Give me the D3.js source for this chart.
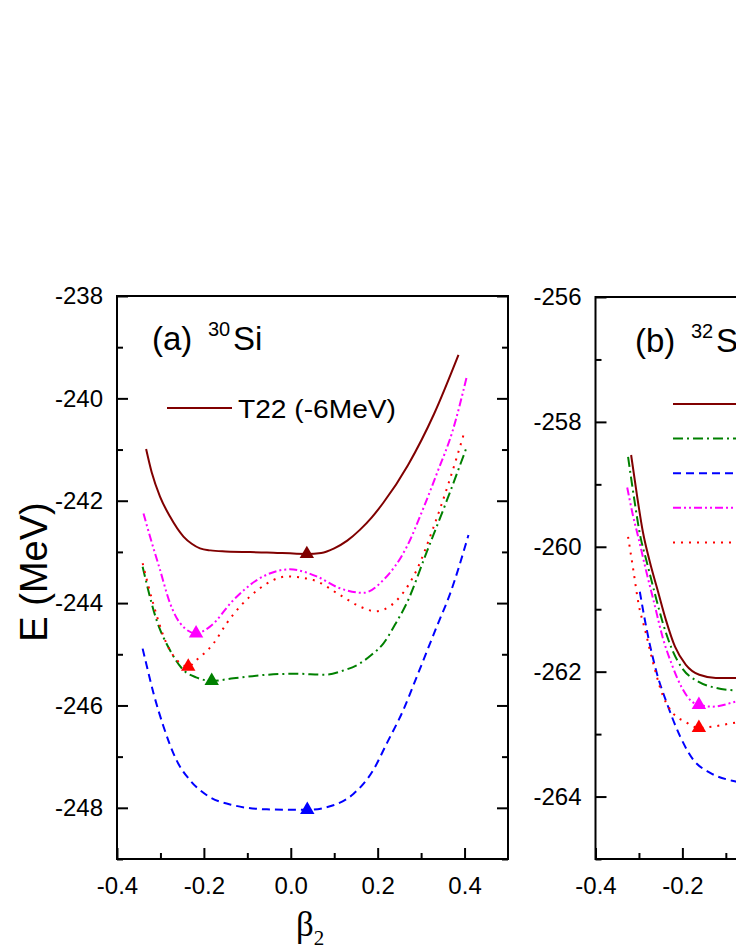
<!DOCTYPE html>
<html>
<head>
<meta charset="utf-8">
<script src="https://cdn.jsdelivr.net/npm/d3@7"></script>
<style>
  body { margin: 0; background: #fff; }
  svg { display: block; }
  text { font-family: "Liberation Sans", Arial, sans-serif; fill: #000; }
</style>
</head>
<body>
<svg id="chart" width="736" height="952"></svg>
<script>
// ---- data, panel (a) 30Si : [beta2, E] ----
var siT22 = [[-0.333,-240.99],[-0.320,-241.45],[-0.301,-241.92],[-0.278,-242.31],[-0.247,-242.70],
  [-0.228,-242.84],[-0.209,-242.93],[-0.185,-242.97],[-0.150,-242.99],[-0.055,-243.01],[0.037,-243.04],
  [0.070,-243.02],[0.100,-242.93],[0.130,-242.78],[0.159,-242.57],[0.186,-242.33],[0.213,-242.04],
  [0.270,-241.30],[0.330,-240.30],[0.386,-239.15]];
var siGreen = [[-0.341,-243.29],[-0.309,-244.33],[-0.278,-244.92],[-0.247,-245.31],[-0.218,-245.45],
  [-0.182,-245.52],[-0.132,-245.47],[-0.055,-245.40],[0.010,-245.38],[0.080,-245.40],[0.120,-245.32],
  [0.159,-245.18],[0.186,-245.01],[0.213,-244.79],[0.240,-244.42],[0.267,-244.00],[0.313,-243.00],
  [0.359,-242.00],[0.405,-240.95]];
var siBlue = [[-0.341,-244.89],[-0.332,-245.21],[-0.316,-245.76],[-0.293,-246.41],[-0.263,-247.07],
  [-0.232,-247.46],[-0.194,-247.75],[-0.132,-247.95],[-0.055,-248.03],[0.038,-248.04],[0.098,-247.95],
  [0.144,-247.73],[0.190,-247.26],[0.221,-246.74],[0.259,-246.09],[0.290,-245.44],[0.336,-244.46],
  [0.367,-243.81],[0.409,-242.67]];
var siMagenta = [[-0.339,-242.25],[-0.324,-242.70],[-0.301,-243.35],[-0.278,-244.00],[-0.255,-244.39],
  [-0.218,-244.59],[-0.186,-244.46],[-0.132,-243.94],[-0.078,-243.55],[-0.002,-243.34],[0.060,-243.48],
  [0.113,-243.71],[0.167,-243.80],[0.213,-243.55],[0.267,-242.90],[0.305,-242.15],[0.338,-241.43],
  [0.372,-240.65],[0.405,-239.58]];
var siRed = [[-0.341,-243.22],[-0.317,-244.00],[-0.286,-244.79],[-0.255,-245.17],[-0.236,-245.24],
  [-0.217,-245.11],[-0.178,-244.79],[-0.148,-244.40],[-0.117,-244.07],[-0.071,-243.71],[-0.009,-243.48],
  [0.052,-243.55],[0.113,-243.84],[0.160,-244.07],[0.195,-244.16],[0.230,-244.05],[0.251,-243.88],
  [0.290,-243.35],[0.328,-242.53],[0.364,-241.64],[0.401,-240.62]];
var siMinima = [[0.037,-243.04,"#800000"],[-0.218,-244.59,"#ff00ff"],[-0.236,-245.24,"#ff0000"],
  [-0.182,-245.52,"#008000"],[0.038,-248.04,"#0000ff"]];

// ---- data, panel (b) 32S (only the left part is in view) ----
var sT22 = [[-0.318,-258.53],[-0.304,-259.20],[-0.291,-259.76],[-0.275,-260.24],[-0.256,-260.72],
  [-0.238,-261.17],[-0.217,-261.60],[-0.192,-261.89],[-0.161,-262.05],[-0.123,-262.10],[-0.077,-262.10],
  [-0.040,-262.10]];
var sGreen = [[-0.325,-258.56],[-0.311,-259.23],[-0.298,-259.79],[-0.281,-260.27],[-0.263,-260.76],
  [-0.245,-261.22],[-0.224,-261.64],[-0.199,-261.96],[-0.166,-262.15],[-0.123,-262.26],[-0.077,-262.30],
  [-0.040,-262.31]];
var sBlue = [[-0.298,-260.72],[-0.282,-261.33],[-0.259,-262.02],[-0.236,-262.50],[-0.205,-263.04],
  [-0.175,-263.41],[-0.136,-263.62],[-0.077,-263.76],[-0.021,-263.82]];
var sMagenta = [[-0.327,-259.05],[-0.314,-259.49],[-0.300,-259.89],[-0.284,-260.37],[-0.265,-260.90],
  [-0.245,-261.46],[-0.224,-261.89],[-0.201,-262.26],[-0.178,-262.48],[-0.162,-262.53],[-0.130,-262.56],
  [-0.077,-262.48],[-0.040,-262.42]];
var sRed = [[-0.325,-259.84],[-0.313,-260.37],[-0.301,-260.91],[-0.286,-261.33],[-0.267,-261.87],
  [-0.244,-262.40],[-0.221,-262.67],[-0.194,-262.80],[-0.163,-262.90],[-0.129,-262.88],[-0.090,-262.83],
  [-0.056,-262.80]];
var sMinima = [[-0.162,-262.53,"#ff00ff"],[-0.162,-262.90,"#ff0000"]];

var xTicksMajor = [-0.4, -0.2, 0.0, 0.2, 0.4];
var xTicksMinor = [-0.3, -0.1, 0.1, 0.3];
var yTicksA = [-238, -240, -242, -244, -246, -248];
var yTicksB = [-256, -258, -260, -262, -264];

// line styles per series
var styles = {
  t22:     {color: "#800000", dash: null},
  green:   {color: "#008000", dash: "10,4,2,4"},
  blue:    {color: "#0000ff", dash: "8,5"},
  magenta: {color: "#ff00ff", dash: "8,3,2,3,2,3"},
  red:     {color: "#ff0000", dash: "2,6"}
};

var W = 736, plotW = 391, bottom = 859;
var svg = d3.select("#chart");

function styleAxis(sel) {
  sel.select(".domain").remove();
  sel.selectAll(".tick line").attr("stroke", "#000").attr("stroke-width", 2);
  sel.selectAll(".tick text").attr("font-size", 24);
}

function drawPanel(opt) {
  var x = d3.scaleLinear().domain([-0.4, 0.5]).range([opt.left, opt.left + plotW]);
  var y = d3.scaleLinear().domain(opt.yDomain).range([opt.top, bottom]);
  var g = svg.append("g");
  var minorY = opt.yTicks.map(function(d){ return d - 1; });
  // only label ticks that land inside the picture
  var xLab = xTicksMajor.filter(function(d){ return x(d) < W - 20; });
  var xNoLab = xTicksMajor.filter(function(d){ return xLab.indexOf(d) < 0; });

  g.append("g").attr("transform", "translate(" + opt.left + ",0)")
    .call(d3.axisLeft(y).tickValues(opt.yTicks).tickSize(-11).tickPadding(14)
      .tickFormat(function(d){ return String(d); }))
    .call(styleAxis);
  g.append("g").attr("transform", "translate(" + opt.left + ",0)")
    .call(d3.axisLeft(y).tickValues(minorY).tickSize(-6).tickFormat(""))
    .call(styleAxis);
  g.append("g").attr("transform", "translate(" + x(0.5) + ",0)")
    .call(d3.axisRight(y).tickValues(opt.yTicks).tickSize(-11).tickFormat(""))
    .call(styleAxis);
  g.append("g").attr("transform", "translate(" + x(0.5) + ",0)")
    .call(d3.axisRight(y).tickValues(minorY).tickSize(-6).tickFormat(""))
    .call(styleAxis);
  g.append("g").attr("transform", "translate(0," + bottom + ")")
    .call(d3.axisBottom(x).tickValues(xLab).tickSize(-11).tickPadding(18)
      .tickFormat(function(d){ return d.toFixed(1); }))
    .call(styleAxis);
  g.append("g").attr("transform", "translate(0," + bottom + ")")
    .call(d3.axisBottom(x).tickValues(xNoLab).tickSize(-11).tickFormat(""))
    .call(styleAxis);
  g.append("g").attr("transform", "translate(0," + bottom + ")")
    .call(d3.axisBottom(x).tickValues(xTicksMinor).tickSize(-6).tickFormat(""))
    .call(styleAxis);

  g.append("rect")
    .attr("x", opt.left).attr("y", opt.top)
    .attr("width", plotW).attr("height", bottom - opt.top)
    .attr("fill", "none").attr("stroke", "#000").attr("stroke-width", 2);

  var line = d3.line()
    .x(function(d){ return x(d[0]); })
    .y(function(d){ return y(d[1]); })
    .curve(d3.curveMonotoneX);

  opt.series.forEach(function(s) {
    g.append("path")
      .datum(s.data)
      .attr("d", line)
      .attr("fill", "none")
      .attr("stroke", s.style.color)
      .attr("stroke-width", 2)
      .attr("stroke-dasharray", s.style.dash);
  });

  g.selectAll("path.tri").data(opt.minima).enter().append("path")
    .attr("class", "tri")
    .attr("d", d3.symbol().type(d3.symbolTriangle).size(90))
    .attr("transform", function(d){ return "translate(" + x(d[0]) + "," + y(d[1]) + ")"; })
    .attr("fill", function(d){ return d[2]; });

  return g;
}

drawPanel({
  left: 117, top: 296, yDomain: [-238, -249], yTicks: yTicksA,
  series: [
    {data: siT22, style: styles.t22},
    {data: siGreen, style: styles.green},
    {data: siBlue, style: styles.blue},
    {data: siMagenta, style: styles.magenta},
    {data: siRed, style: styles.red}
  ],
  minima: siMinima
});

drawPanel({
  left: 595.5, top: 297, yDomain: [-256, -265], yTicks: yTicksB,
  series: [
    {data: sT22, style: styles.t22},
    {data: sGreen, style: styles.green},
    {data: sBlue, style: styles.blue},
    {data: sMagenta, style: styles.magenta},
    {data: sRed, style: styles.red}
  ],
  minima: sMinima
});

// panel labels
function nucleusLabel(x0, base, letter, mass, sym) {
  svg.append("text").attr("x", x0).attr("y", base).attr("font-size", 33).text("(" + letter + ")");
  svg.append("text").attr("x", x0 + 56).attr("y", base - 14).attr("font-size", 20).text(mass);
  svg.append("text").attr("x", x0 + 81).attr("y", base).attr("font-size", 33).text(sym);
}
nucleusLabel(152, 350, "a", "30", "Si");
nucleusLabel(635, 352, "b", "32", "S");

// legend (a)
svg.append("line").attr("x1", 167).attr("x2", 232).attr("y1", 408).attr("y2", 408)
  .attr("stroke", styles.t22.color).attr("stroke-width", 2);
svg.append("text").attr("x", 238).attr("y", 418).attr("font-size", 25)
  .attr("textLength", 158).attr("lengthAdjust", "spacingAndGlyphs")
  .text("T22 (-6MeV)");

// legend (b) line samples (their labels fall outside the picture)
var legendB = [styles.t22, styles.green, styles.blue, styles.magenta, styles.red];
svg.selectAll("line.legb").data(legendB).enter().append("line")
  .attr("class", "legb")
  .attr("x1", 673).attr("x2", 745)
  .attr("y1", function(d, i){ return 404 + i * 34.6; })
  .attr("y2", function(d, i){ return 404 + i * 34.6; })
  .attr("stroke", function(d){ return d.color; })
  .attr("stroke-width", 2)
  .attr("stroke-dasharray", function(d){ return d.dash; });

// axis titles
svg.append("text")
  .attr("transform", "translate(47,572) rotate(-90)")
  .attr("text-anchor", "middle")
  .attr("font-size", 38)
  .text("E (MeV)");

var bt = svg.append("text")
  .attr("x", 296).attr("y", 936)
  .attr("font-size", 35)
  .style("font-family", "'Liberation Serif', 'Times New Roman', serif");
bt.append("tspan").text("β");
bt.append("tspan").attr("font-size", 21).attr("dy", 9).text("2");
</script>
</body>
</html>
